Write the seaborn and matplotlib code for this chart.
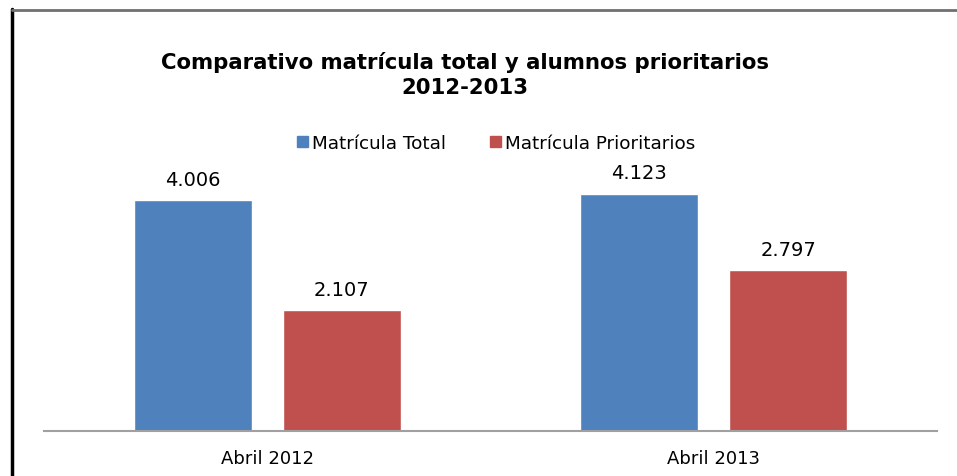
import pandas as pd
import matplotlib.pyplot as plt
import seaborn as sns
from matplotlib.lines import Line2D
from matplotlib.patches import Patch

# Data
CATEGORIES = ["Abril 2012", "Abril 2013"]
SERIES = ["Matrícula Total", "Matrícula Prioritarios"]
TOTAL = [4006, 4123]
PRIORITARIOS = [2107, 2797]
COLORS = ["#4F81BD", "#C0504D"]
TITLE = "Comparativo matrícula total y alumnos prioritarios\n2012-2013"

W, H = 957, 477


def fmt(v):
    return f"{v:,}".replace(",", ".")


if __name__ == "__main__":
    sns.set_style("white")
    plt.rcParams["font.family"] = ["DejaVu Sans"]
    plt.rcParams["text.color"] = "black"
    plt.rcParams["xtick.color"] = "black"

    df = pd.DataFrame({
        "Periodo": CATEGORIES * 2,
        "Serie": [SERIES[0]] * 2 + [SERIES[1]] * 2,
        "Valor": TOTAL + PRIORITARIOS,
    })

    fig = plt.figure(figsize=(W / 100, H / 100), dpi=100)
    ax = fig.add_axes([44 / W, 1 - 432 / H, (937 - 44) / W, 288 / H])

    sns.barplot(data=df, x="Periodo", y="Valor", hue="Serie", order=CATEGORIES,
                hue_order=SERIES, palette=COLORS, width=0.667, gap=0.21,
                saturation=1, legend=False, ax=ax)

    ax.set_xlim(-0.5, 1.5)
    ax.set_ylim(0, 5000)
    ax.set_xlabel("")
    ax.set_ylabel("")
    ax.set_yticks([])
    ax.tick_params(axis="x", length=0, labelsize=13, labelcolor="black", pad=13)
    for s in ["top", "right", "left"]:
        ax.spines[s].set_visible(False)
    ax.spines["bottom"].set_color("#A0A0A0")
    ax.spines["bottom"].set_linewidth(1.5)

    for cont in ax.containers:
        ax.bar_label(cont, labels=[fmt(int(v)) for v in cont.datavalues],
                     padding=8, fontsize=14, color="black")

    handles = [Patch(color=c, label=s) for c, s in zip(COLORS, SERIES)]
    fig.legend(handles=handles, loc="center", bbox_to_anchor=(496 / W, 1 - 144 / H),
               ncol=2, frameon=False, fontsize=13.2, handlelength=0.6,
               handleheight=0.6, handletextpad=0.2, columnspacing=2.4)

    fig.text(465 / W, 1 - 75 / H, TITLE, ha="center", va="center", color="black",
             fontsize=15.3, fontweight="bold", linespacing=1.3)

    # chart frame (partial, as in the reference)
    fig.add_artist(Line2D([11.5 / W, 11.5 / W], [0, 1 - 10 / H],
                          color="black", lw=2.5, transform=fig.transFigure))
    fig.add_artist(Line2D([11.5 / W, 1], [1 - 11 / H, 1 - 11 / H],
                          color="#707070", lw=2, transform=fig.transFigure))

    fig.savefig("out.png", dpi=100)
